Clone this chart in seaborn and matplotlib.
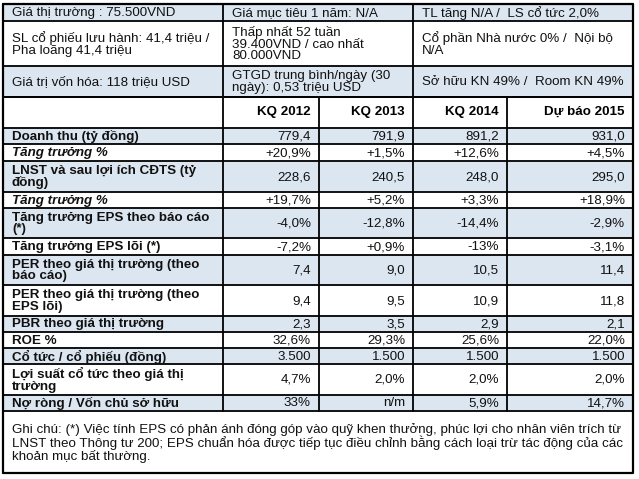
import matplotlib
matplotlib.use('Agg')
import matplotlib.pyplot as plt
import seaborn as sns

# Table content
top_info = [
    ['Giá thị trường : 75.500VND', 'Giá mục tiêu 1 năm: N/A', 'TL tăng N/A /  LS cổ tức 2,0%'],
    ['SL cổ phiếu lưu hành: 41,4 triệu /\nPha loãng 41,4 triệu',
     'Thấp nhất 52 tuần\n39.400VND / cao nhất\n80.000VND',
     'Cổ phần Nhà nước 0% /  Nội bộ\nN/A'],
    ['Giá trị vốn hóa: 118 triệu USD', 'GTGD trung bình/ngày (30\nngày): 0,53 triệu USD',
     'Sở hữu KN 49% /  Room KN 49%'],
]
years = ['KQ 2012', 'KQ 2013', 'KQ 2014', 'Dự báo 2015']
row_labels = [
    'Doanh thu (tỷ đồng)',
    'Tăng trưởng %',
    'LNST và sau lợi ích CĐTS (tỷ\nđồng)',
    'Tăng trưởng %',
    'Tăng trưởng EPS theo báo cáo\n(*)',
    'Tăng trưởng EPS lõi (*)',
    'PER theo giá thị trường (theo\nbáo cáo)',
    'PER theo giá thị trường (theo\nEPS lõi)',
    'PBR theo giá thị trường',
    'ROE %',
    'Cổ tức / cổ phiếu (đồng)',
    'Lợi suất cổ tức theo giá thị\ntrường',
    'Nợ ròng / Vốn chủ sở hữu',
]
kq2012 = ['779,4', '+20,9%', '228,6', '+19,7%', '-4,0%', '-7,2%', '7,4', '9,4', '2,3', '32,6%', '3.500', '4,7%', '33%']
kq2013 = ['791,9', '+1,5%', '240,5', '+5,2%', '-12,8%', '+0,9%', '9,0', '9,5', '3,5', '29,3%', '1.500', '2,0%', 'n/m']
kq2014 = ['891,2', '+12,6%', '248,0', '+3,3%', '-14,4%', '-13%', '10,5', '10,9', '2,9', '25,6%', '1.500', '2,0%', '5,9%']
db2015 = ['931,0', '+4,5%', '295,0', '+18,9%', '-2,9%', '-3,1%', '11,4', '11,8', '2,1', '22,0%', '1.500', '2,0%', '14,7%']
italic_rows = [1, 3]
note = ('Ghi chú: (*) Việc tính EPS có phản ánh đóng góp vào quỹ khen thưởng, phúc lợi cho nhân viên trích từ\n'
        'LNST theo Thông tư 200; EPS chuẩn hóa được tiếp tục điều chỉnh bằng cách loại trừ tác động của các\n'
        'khoản mục bất thường.')

# Layout (pixel grid of the 639x479 image)
top_edges = [4, 21, 66, 97]
top_cols = [3, 223, 413, 633]
row_edges = [97, 128, 144, 161, 192, 208, 238, 255, 285, 316, 332, 348, 364, 395, 411, 473]
col_edges = [3, 223, 319, 413, 507, 633]
blue = '#dce6f1'
fam = ['Liberation Sans', 'DejaVu Sans']
fs = 9.6

sns.set_theme(style='white')
plt.rcParams['font.family'] = fam

fig = plt.figure(figsize=(6.39, 4.79), dpi=100)
ax = fig.add_axes([0, 0, 1, 1])
ax.set_xlim(0, 639)
ax.set_ylim(479, 0)
ax.axis('off')

lw = 1.3

# top info block
for i, row in enumerate(top_info):
    y0, y1 = top_edges[i], top_edges[i + 1]
    if i % 2 == 0:
        ax.fill_between([top_cols[0], top_cols[-1]], y0, y1, color=blue, lw=0)
    for j, txt in enumerate(row):
        ax.text(top_cols[j] + 9, (y0 + y1) / 2 + 0.5, txt, fontsize=fs, va='center', ha='left',
                color='#111111', linespacing=0.98)
    for x in top_cols[1:-1]:
        ax.plot([x, x], [y0, y1], color='black', lw=lw)
for y in top_edges:
    ax.plot([top_cols[0], top_cols[-1]], [y, y], color='black', lw=lw)

# column header
for j, yr in enumerate(years):
    ax.text(col_edges[j + 2] - 8, (row_edges[0] + row_edges[1]) / 2 - 1, yr, fontsize=fs,
            fontweight='bold', ha='right', va='center', color='black')

# data rows
cols = [kq2012, kq2013, kq2014, db2015]
for i, lab in enumerate(row_labels):
    y0, y1 = row_edges[i + 1], row_edges[i + 2]
    yc = (y0 + y1) / 2 + 0.5
    if i % 2 == 0:
        ax.fill_between([col_edges[0], col_edges[-1]], y0, y1, color=blue, lw=0)
    ax.text(col_edges[0] + 9, yc, lab, fontsize=fs, fontweight='bold',
            fontstyle='italic' if i in italic_rows else 'normal',
            ha='left', va='center', color='#111111', linespacing=0.95)
    for j, vals in enumerate(cols):
        ax.text(col_edges[j + 2] - 8, yc, vals[i], fontsize=fs, ha='right', va='center', color='#111111')

# grid lines of the table
for y in row_edges:
    ax.plot([col_edges[0], col_edges[-1]], [y, y], color='black', lw=lw)
for x in col_edges[1:-1]:
    ax.plot([x, x], [row_edges[0], row_edges[-2]], color='black', lw=lw)

# note row
ax.text(col_edges[0] + 9, (row_edges[-2] + row_edges[-1]) / 2 + 1, note, fontsize=fs, ha='left',
        va='center', color='#111111', linespacing=0.98)

# outer frame
ax.plot([3, 633, 633, 3, 3], [4, 4, 473, 473, 4], color='black', lw=lw + 0.3)

fig.savefig('out.png', dpi=100)
